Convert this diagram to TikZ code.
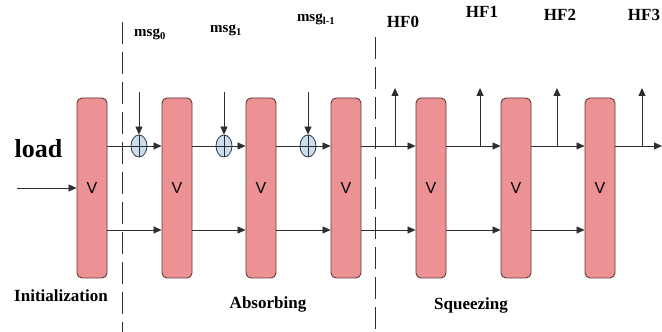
\documentclass[tikz,border=0pt]{standalone}
\usepackage{fontspec}
\setmainfont{Liberation Serif}
\newfontfamily\vfont{Liberation Sans}
\usetikzlibrary{arrows.meta,shapes.geometric,positioning}
\definecolor{BoxPink} {RGB}{236,146,148}
\definecolor{BoxEdge} {RGB}{100, 55, 55}
\definecolor{XorBlue} {RGB}{204,222,238}
\definecolor{XorEdge} {RGB}{ 45, 55, 75}
\definecolor{LineGray}{RGB}{ 45, 45, 45}
\tikzset{
  %% 置换方框
  vbox/.style={rectangle,rounded corners=5pt,
               draw=BoxEdge,line width=0.9pt,fill=BoxPink,
               minimum width=30pt,minimum height=180pt,inner sep=0pt,
               font=\vfont\fontsize{16}{16}\selectfont},
  %% 异或
  xorc/.style={ellipse,draw=XorEdge,line width=0.8pt,fill=XorBlue,
               minimum width=16pt,minimum height=22pt,inner sep=0pt},
  %% 文字
  lbl/.style={font=\bfseries\fontsize{17}{17}\selectfont,
              inner sep=0pt,anchor=base},
  %% 线与箭头
  arr/.style={-{Triangle[length=8pt,width=7pt]},line width=0.8pt,color=LineGray},
  ln/.style={line width=0.8pt,color=LineGray},
  sep/.style={line width=0.8pt,dash pattern=on 22pt off 8pt,color=LineGray},
}
\begin{document}
\begin{tikzpicture}[x=1pt,y=1pt]
    \useasboundingbox (0,0) rectangle (662,332);

    %% ── 置换方框 ──────────────────────────────
    \node[vbox] (v0) at (92, 144) {V};
    \node[vbox] (v1) at (177,144) {V};
    \node[vbox] (v2) at (261,144) {V};
    \node[vbox] (v3) at (346,144) {V};
    \node[vbox] (v4) at (431,144) {V};
    \node[vbox] (v5) at (516,144) {V};
    \node[vbox] (v6) at (600,144) {V};

    %% 上下两条数据线的高度
    \coordinate (top) at (0,186);
    \coordinate (low) at (0,102);

    %% ── 异或 ──────────────────────────────────
    \node[xorc] (x0) at (139,186) {};
    \node[xorc] (x1) at (224,186) {};
    \node[xorc] (x2) at (308,186) {};
    \draw[ln,line width=0.5pt] (x0.north) -- (x0.south) (x0.west) -- (x0.east);
    \draw[ln,line width=0.5pt] (x1.north) -- (x1.south) (x1.west) -- (x1.east);
    \draw[ln,line width=0.5pt] (x2.north) -- (x2.south) (x2.west) -- (x2.east);

    %% 自由端点
    \coordinate (ld) at (17,144);
    \coordinate (m0) at (139,240);
    \coordinate (m1) at (224,240);
    \coordinate (m2) at (308,240);
    \coordinate (b0) at (395,186);
    \coordinate (b1) at (480,186);
    \coordinate (b2) at (557,186);
    \coordinate (b3) at (642,186);
    \coordinate (t0) at (395,244);
    \coordinate (t1) at (480,244);
    \coordinate (t2) at (557,244);
    \coordinate (t3) at (642,244);
    \coordinate (out) at (662,186);

    %% ── 吸收阶段 ──────────────────────────────
    \draw[arr] (ld) -- (v0.west);
    \draw[ln]  (v0.east |- top) -- (x0.west);
    \draw[arr] (x0.east) -- (v1.west |- top);
    \draw[ln]  (v1.east |- top) -- (x1.west);
    \draw[arr] (x1.east) -- (v2.west |- top);
    \draw[ln]  (v2.east |- top) -- (x2.west);
    \draw[arr] (x2.east) -- (v3.west |- top);
    \draw[arr] (m0) -- (x0.north);
    \draw[arr] (m1) -- (x1.north);
    \draw[arr] (m2) -- (x2.north);

    %% ── 挤压阶段 ──────────────────────────────
    \draw[arr] (v3.east |- top) -- (v4.west |- top);
    \draw[arr] (v4.east |- top) -- (v5.west |- top);
    \draw[arr] (v5.east |- top) -- (v6.west |- top);
    \draw[arr] (v6.east |- top) -- (out);
    \draw[arr] (b0) -- (t0);
    \draw[arr] (b1) -- (t1);
    \draw[arr] (b2) -- (t2);
    \draw[arr] (b3) -- (t3);

    %% 下方数据线
    \draw[arr] (v0.east |- low) -- (v1.west |- low);
    \draw[arr] (v1.east |- low) -- (v2.west |- low);
    \draw[arr] (v2.east |- low) -- (v3.west |- low);
    \draw[arr] (v3.east |- low) -- (v4.west |- low);
    \draw[arr] (v4.east |- low) -- (v5.west |- low);
    \draw[arr] (v5.east |- low) -- (v6.west |- low);

    %% ── 阶段分隔虚线 ──────────────────────────
    \coordinate (d0a) at (122,310);
    \coordinate (d0b) at (122,0);
    \coordinate (d1a) at (375,295);
    \coordinate (d1b) at (375,0);
    \draw[sep] (d0a) -- (d0b);
    \draw[sep] (d1a) -- (d1b);

    %% ── 文字 ──────────────────────────────────
    \node[lbl,font=\bfseries\fontsize{26}{26}\selectfont] (load) at (38.5,174) {load};
    \node[lbl] (init) at (61, 30) {Initialization};
    \node[lbl] (abs)  at (268,23) {Absorbing};
    \node[lbl] (sqz)  at (471,22) {Squeezing};
    \node[lbl,font=\bfseries\fontsize{15}{15}\selectfont] (msg0) at (150,295) {msg\textsubscript{0}};
    \node[lbl,font=\bfseries\fontsize{15}{15}\selectfont] (msg1) at (226,299) {msg\textsubscript{1}};
    \node[lbl,font=\bfseries\fontsize{15}{15}\selectfont] (msgl) at (316,310) {msg\textsubscript{l-1}};
    \node[lbl] (hf0) at (403,304) {HF0};
    \node[lbl] (hf1) at (482,314) {HF1};
    \node[lbl] (hf2) at (560,311) {HF2};
    \node[lbl] (hf3) at (644,311) {HF3};
  \end{tikzpicture}
\end{document}
